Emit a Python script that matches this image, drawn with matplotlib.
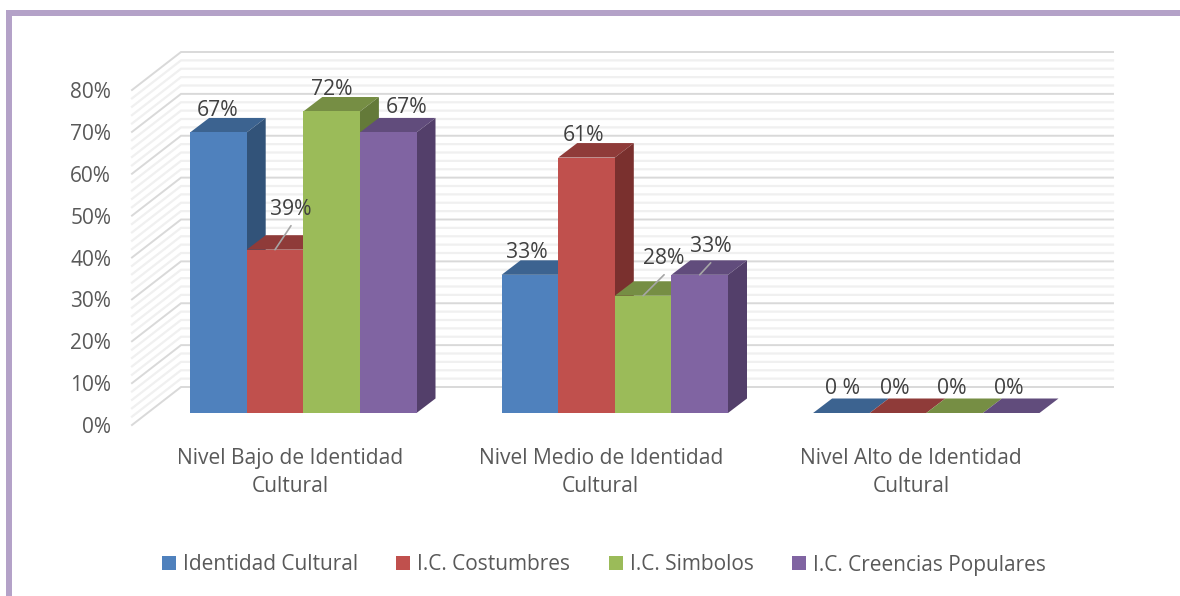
import matplotlib
matplotlib.use("Agg")
import matplotlib.pyplot as plt
from matplotlib.patches import Polygon, Rectangle

categories = ["Nivel Bajo de Identidad\nCultural", "Nivel Medio de Identidad\nCultural", "Nivel Alto de Identidad\nCultural"]
series = ["Identidad Cultural", "I.C. Costumbres", "I.C. Simbolos", "I.C. Creencias Populares"]
identidad = [67, 33, 0]
costumbres = [39, 61, 0]
simbolos = [72, 28, 0]
creencias = [67, 33, 0]
y_ticks = [0, 10, 20, 30, 40, 50, 60, 70, 80]

W, H = 1180, 596
plt.rcParams['font.family'] = ['Open Sans', 'DejaVu Sans']
fig = plt.figure(figsize=(W / 100, H / 100), dpi=100, facecolor='white')

# plot frame in pixels
L, R, T, B = 132, 1113, 90, 425
ax = fig.add_axes([L / W, 1 - B / H, (R - L) / W, (B - T) / H])
PX_X = 311.5
PX_Y = (B - T) / 80
center0 = 303.3
ax.set_xlim((L - center0) / PX_X, (R - center0) / PX_X)
ax.set_ylim(0, 80)
ax.patch.set_alpha(0)
for s in ax.spines.values():
    s.set_visible(False)

dx_wall = 49 / PX_X
dy_wall = 38 / PX_Y
x0, x1 = ax.get_xlim()
xb = x0 + dx_wall

# walls and gridlines (back wall runs up to x1)
for v in range(0, 81, 2):
    major = v % 10 == 0
    c, lw = ('#D9D9D9', 1.4) if major else ('#F0F0F0', 1.6)
    z = 2 if major else 1
    ax.plot([x0, xb, x1], [v, v + dy_wall, v + dy_wall], color=c, lw=lw, clip_on=False, zorder=z,
            solid_joinstyle='miter')

# bars
front = ['#4F81BD', '#C0504D', '#9BBB59', '#8064A2']
top = ['#3C6390', '#8F3B39', '#768E44', '#614C7C']
side = ['#325379', '#7A302E', '#647A39', '#533F6A']
bw = 56.6 / PX_X
dx = 19 / PX_X
dy = 14.5 / PX_Y
base = 12 / PX_Y
values = [identidad, costumbres, simbolos, creencias]
handles = []
z = 5
for c in range(len(categories)):
    for i, vals in enumerate(values):
        v = vals[c]
        xl = c + (i - 2) * bw
        xr = xl + bw
        yt = base + v
        ax.add_patch(Polygon([(xl, yt), (xr, yt), (xr + dx, yt + dy), (xl + dx, yt + dy)],
                             fc=top[i], ec='none', zorder=z, clip_on=False))
        if v > 0:
            ax.add_patch(Polygon([(xr, base), (xr + dx, base + dy), (xr + dx, yt + dy), (xr, yt)],
                                 fc=side[i], ec='none', zorder=z, clip_on=False))
        b = ax.bar(xl, v, width=bw, bottom=base, align='edge', color=front[i], zorder=z + 1,
                   clip_on=False, edgecolor='none')
        if c == 0:
            handles.append(b)
        z += 2

# data labels: pixel offsets from the bar's top-front centre
label_text = [['67%', '33%', '0 %'], ['39%', '61%', '0%'], ['72%', '28%', '0%'], ['67%', '33%', '0%']]
label_off = [[(-1, 22), (-3, 22), (1, 24)],
             [(16, 40), (-3, 22), (-3, 24)],
             [(0, 22), (21, 37), (-3, 24)],
             [(18, 25), (11, 28), (-2, 24)]]
leaders = {(1, 0), (2, 1), (3, 1)}
for i, vals in enumerate(values):
    for c, v in enumerate(vals):
        xc = c + (i - 1.5) * bw
        ox, oy = label_off[i][c]
        fx, fy = 0.72 * ox, 0.72 * oy
        ax.annotate(label_text[i][c], xy=(xc, base + v), xytext=(fx, fy), textcoords='offset points',
                    ha='center', va='center', fontsize=15.2, color='#404040', zorder=200, annotation_clip=False)
        if (i, c) in leaders:
            ax.annotate('', xy=(xc, base + v), xytext=(fx, fy - 0.72 * 16), textcoords='offset points',
                        arrowprops=dict(arrowstyle='-', color='#A6A6A6', lw=1.2, shrinkA=0, shrinkB=0),
                        zorder=199, annotation_clip=False)

ax.set_yticks(y_ticks)
ax.set_yticklabels([f"{t}%" for t in y_ticks], fontsize=15, color='#595959')
ax.set_xticks([c - (13 + c * 1) / PX_X for c in range(len(categories))])
ax.set_xticklabels(categories, fontsize=15.1, color='#595959', linespacing=1.42)
ax.tick_params(axis='both', length=0)
ax.tick_params(axis='y', pad=15)
ax.tick_params(axis='x', pad=16.5)

leg = fig.legend(handles=handles, labels=series, loc='center', bbox_to_anchor=(604 / W, 1 - 565 / H),
                 ncol=4, frameon=False, fontsize=15, labelcolor='#595959', handlelength=0.67, handleheight=0.67,
                 handletextpad=0.34, columnspacing=1.85)

# purple frame
purple = '#B4A2C8'
fig.add_artist(Rectangle((6 / W, 1 - 16 / H), (W - 6) / W, 6 / H, transform=fig.transFigure, fc=purple, ec='none'))
fig.add_artist(Rectangle((6 / W, 0), 6 / W, 1 - 10 / H, transform=fig.transFigure, fc=purple, ec='none'))

fig.savefig('out.png', dpi=100, facecolor='white')
